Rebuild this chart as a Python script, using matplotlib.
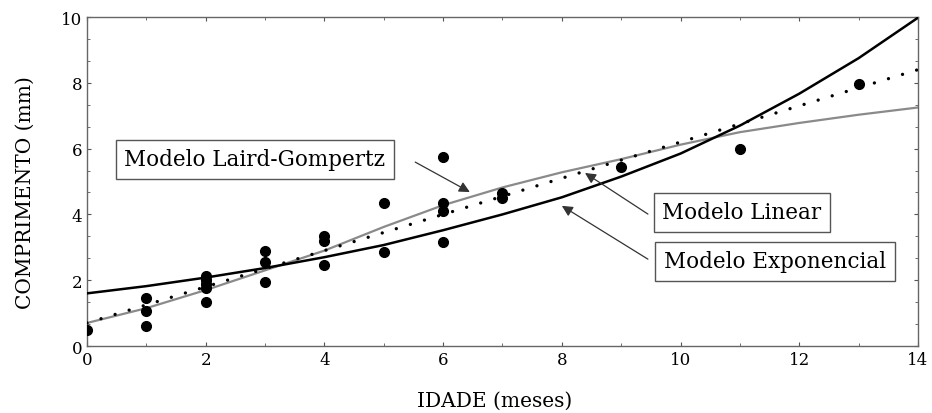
import matplotlib.pyplot as plt
from matplotlib.ticker import MultipleLocator, AutoMinorLocator

# observed points
idade_obs = [0, 1, 1, 1, 2, 2, 2, 2, 2, 3, 3, 3, 4, 4, 4, 5, 5, 6, 6, 6, 6, 7, 7, 9, 11, 13]
comp_obs = [0.5, 1.45, 1.05, 0.6, 2.12, 2.0, 1.88, 1.75, 1.35, 2.9, 2.55, 1.95,
            3.35, 3.2, 2.45, 4.35, 2.85, 5.75, 4.35, 4.1, 3.15, 4.65, 4.5, 5.45, 6.0, 7.95]

# model curves at whole months
idade_mod = [0, 1, 2, 3, 4, 5, 6, 7, 8, 9, 10, 11, 12, 13, 14]
exponencial = [1.60, 1.82, 2.08, 2.37, 2.70, 3.07, 3.52, 4.00, 4.52, 5.15, 5.85, 6.70, 7.67, 8.75, 9.98]
linear = [0.70, 1.25, 1.80, 2.35, 2.90, 3.45, 4.00, 4.55, 5.10, 5.65, 6.20, 6.75, 7.30, 7.85, 8.40]
gompertz = [0.70, 1.15, 1.70, 2.30, 2.90, 3.62, 4.28, 4.82, 5.28, 5.68, 6.12, 6.50, 6.78, 7.03, 7.25]

plt.rcParams['font.family'] = ['DejaVu Serif']

fig = plt.figure(figsize=(9.32, 4.14), dpi=100)
ax = fig.add_axes([0.0933, 0.1618, 0.8917, 0.7947])

ax.plot(idade_mod, gompertz, '-', color='#8a8a8a', linewidth=1.6, zorder=2)
ax.plot(idade_mod, linear, color='black', linewidth=2.4,
        linestyle=(0, (0.01, 4.4)), dash_capstyle='round', zorder=3)
ax.plot(idade_mod, exponencial, '-', color='black', linewidth=1.8, zorder=4)
ax.plot(idade_obs, comp_obs, 'o', color='black', markersize=7, zorder=5)

ax.set_xlim(0, 14)
ax.set_ylim(0, 10)
ax.xaxis.set_major_locator(MultipleLocator(2))
ax.yaxis.set_major_locator(MultipleLocator(2))
ax.xaxis.set_minor_locator(AutoMinorLocator(2))
ax.yaxis.set_minor_locator(AutoMinorLocator(3))
ax.tick_params(which='both', direction='in', top=True, right=True,
               colors='#555555', labelcolor='black', labelsize=12)
ax.tick_params(which='major', length=3)
ax.tick_params(which='minor', length=2)
for s in ax.spines.values():
    s.set_color('#666666')
    s.set_linewidth(1.0)

ax.set_xlabel('IDADE (meses)', fontsize=14.5)
ax.set_ylabel('COMPRIMENTO (mm)', fontsize=14.5)
ax.xaxis.set_label_coords(0.49, -0.135)
ax.yaxis.set_label_coords(-0.063, 0.468)

box = dict(boxstyle='square,pad=0.4', facecolor='white', edgecolor='#555555', linewidth=1.0)
arrow = dict(arrowstyle='-|>', color='#333333', linewidth=0.9, mutation_scale=16, shrinkA=0, shrinkB=0)

ax.text(2.83, 5.67, 'Modelo Laird-Gompertz', fontsize=15.5, ha='center', va='center', bbox=box, zorder=6)
ax.text(11.03, 4.06, 'Modelo Linear', fontsize=15.5, ha='center', va='center', bbox=box, zorder=6)
ax.text(11.59, 2.57, 'Modelo Exponencial', fontsize=15.5, ha='center', va='center', bbox=box, zorder=6)

ax.annotate('', xy=(6.45, 4.68), xytext=(5.53, 5.59), arrowprops=arrow, zorder=6)
ax.annotate('', xy=(8.39, 5.26), xytext=(9.45, 4.01), arrowprops=arrow, zorder=6)
ax.annotate('', xy=(8.00, 4.26), xytext=(9.45, 2.64), arrowprops=arrow, zorder=6)

fig.savefig('out.png', dpi=100)
